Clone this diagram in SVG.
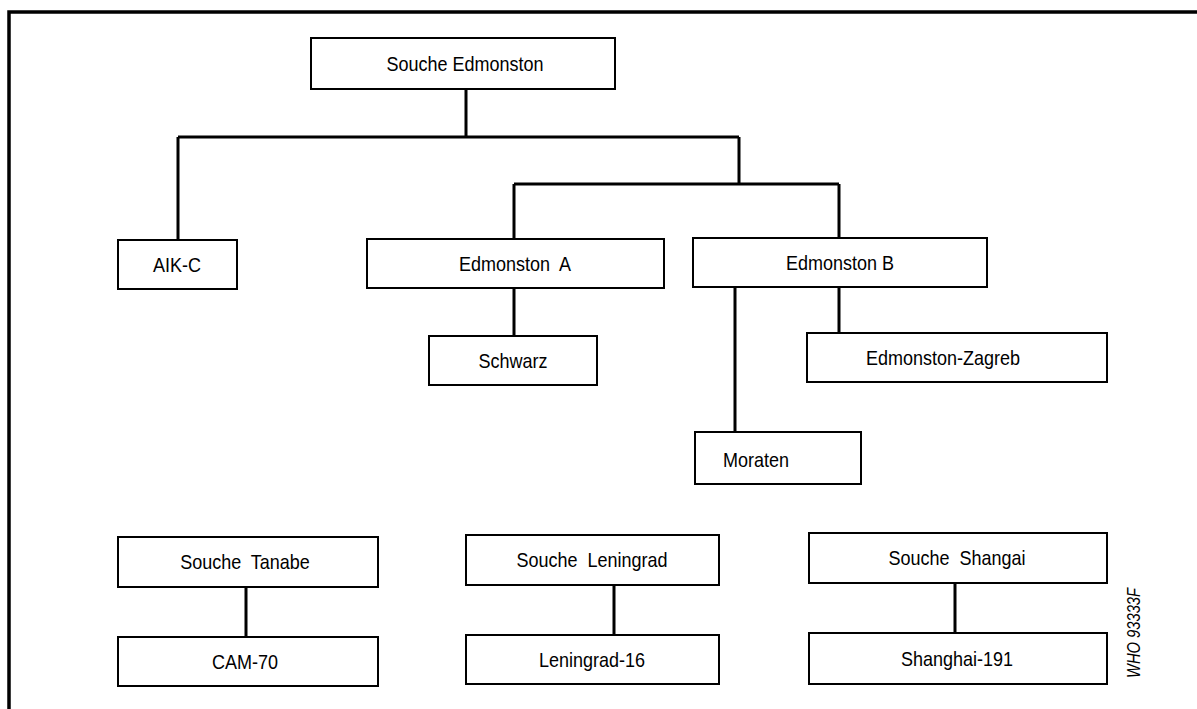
<svg xmlns="http://www.w3.org/2000/svg" width="1197" height="709" viewBox="0 0 1197 709">
<style>
.box{fill:#fff;stroke:#000;stroke-width:2}
.lbl{font-family:"Liberation Sans",Arial,sans-serif;font-size:20px;fill:#000;text-anchor:middle}
.con{fill:none;stroke:#000;stroke-width:3}
</style>
<rect width="1197" height="709" fill="#fff"/>
<g id="frame"><path d="M9 709 V12 H1197" fill="none" stroke="#000" stroke-width="3.5"/></g>
<g id="connectors" class="con">
<path d="M466 89 V137 M178 137 H739 M178 137 V240 M739 137 V184 M514 184 H839 M514 184 V239 M839 184 V238"/>
<path d="M514 288 V336 M839 287 V333 M735 287 V432"/>
<path d="M246 587 V637 M614 585 V635 M955 583 V633"/>
</g>
<g id="n-edmonston"><rect class="box" x="311" y="38" width="304" height="51"/><text class="lbl" transform="translate(465 71) scale(0.9 1)">Souche Edmonston</text></g>
<g id="n-aikc"><rect class="box" x="118" y="240" width="119" height="49"/><text class="lbl" transform="translate(177 272) scale(0.9 1)">AIK-C</text></g>
<g id="n-edma"><rect class="box" x="367" y="239" width="297" height="49"/><text class="lbl" transform="translate(515 271) scale(0.9 1)" xml:space="preserve">Edmonston  A</text></g>
<g id="n-edmb"><rect class="box" x="693" y="238" width="294" height="49"/><text class="lbl" transform="translate(840 270) scale(0.9 1)">Edmonston B</text></g>
<g id="n-schwarz"><rect class="box" x="429" y="336" width="168" height="49"/><text class="lbl" transform="translate(513 368) scale(0.9 1)">Schwarz</text></g>
<g id="n-zagreb"><rect class="box" x="807" y="333" width="300" height="49"/><text class="lbl" transform="translate(943 365) scale(0.9 1)">Edmonston-Zagreb</text></g>
<g id="n-moraten"><rect class="box" x="695" y="432" width="166" height="52"/><text class="lbl" transform="translate(756 467) scale(0.9 1)">Moraten</text></g>
<g id="n-tanabe"><rect class="box" x="118" y="537" width="260" height="50"/><text class="lbl" transform="translate(245 569) scale(0.9 1)" xml:space="preserve">Souche  Tanabe</text></g>
<g id="n-cam70"><rect class="box" x="118" y="637" width="260" height="49"/><text class="lbl" transform="translate(245 669) scale(0.9 1)">CAM-70</text></g>
<g id="n-leningrad"><rect class="box" x="466" y="535" width="253" height="50"/><text class="lbl" transform="translate(592 567) scale(0.9 1)" xml:space="preserve">Souche  Leningrad</text></g>
<g id="n-len16"><rect class="box" x="466" y="635" width="253" height="49"/><text class="lbl" transform="translate(592 667) scale(0.9 1)">Leningrad-16</text></g>
<g id="n-shangai"><rect class="box" x="809" y="533" width="298" height="50"/><text class="lbl" transform="translate(957 565) scale(0.9 1)" xml:space="preserve">Souche  Shangai</text></g>
<g id="n-shanghai191"><rect class="box" x="809" y="633" width="298" height="51"/><text class="lbl" transform="translate(957 666) scale(0.9 1)">Shanghai-191</text></g>
<g id="code"><text x="0" y="0" transform="translate(1140 633) rotate(-90)" style="font-family:'Liberation Sans',Arial,sans-serif;font-size:18px;font-style:italic;text-anchor:middle" textLength="90" lengthAdjust="spacingAndGlyphs">WHO 93333F</text></g>
</svg>
